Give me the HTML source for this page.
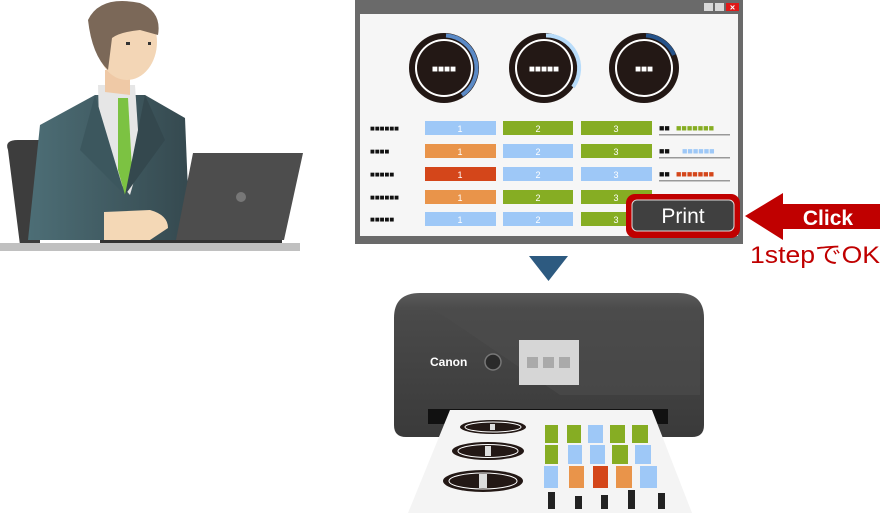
<!DOCTYPE html>
<html><head><meta charset="utf-8"><style>
html,body{margin:0;padding:0;background:#fff;width:883px;height:513px;overflow:hidden}
svg{display:block}
text{font-family:"Liberation Sans","Noto Sans CJK JP",sans-serif}
</style></head><body>
<svg width="883" height="513" viewBox="0 0 883 513" xmlns="http://www.w3.org/2000/svg">
<defs>
<linearGradient id="suit" x1="0" x2="1"><stop offset="0" stop-color="#4d6e76"/><stop offset="1" stop-color="#35494f"/></linearGradient>
<linearGradient id="pr" x1="0" y1="0" x2="0" y2="1"><stop offset="0" stop-color="#5a5a5a"/><stop offset="0.12" stop-color="#4a4a4a"/><stop offset="1" stop-color="#3a3a3a"/></linearGradient>
</defs>
<!-- person -->
<path d="M8 150 Q4 140 18 140 L40 140 L40 245 L20 245 Z" fill="#3d3d3d"/>
<path d="M40 125 L95 95 L145 95 L185 118 L190 240 L28 240 Z" fill="url(#suit)"/>
<path d="M98 85 L135 85 L140 160 L130 195 L100 160 Z" fill="#e6e6e6"/>
<path d="M118 98 L128 98 L132 170 L125 195 L118 170 Z" fill="#7cc242"/>
<path d="M95 95 L125 195 L80 150 Z" fill="#3c575e"/>
<path d="M145 95 L125 195 L165 140 Z" fill="#34484e"/>
<path d="M105 70 L130 70 L130 95 L105 92 Z" fill="#efc9a6"/>
<ellipse cx="127" cy="42" rx="30" ry="38" fill="#f3d6b6"/>
<path d="M88 20 Q100 -5 140 3 Q162 12 158 35 L140 30 Q120 32 112 38 L108 70 Q92 55 88 20 Z" fill="#7b6858"/>
<rect x="126" y="42" width="4" height="3" fill="#333"/><rect x="148" y="42" width="3" height="3" fill="#333"/>
<path d="M104 212 L150 210 Q168 215 168 228 L150 240 L104 240 Z" fill="#f4d8b6"/>
<path d="M193 153 L303 153 L284 240 L176 240 Z" fill="#4d4d4d"/>
<circle cx="241" cy="197" r="5" fill="#777"/>
<rect x="100" y="240" width="182" height="4" fill="#333"/>
<rect x="0" y="243" width="300" height="8" fill="#c0c0c0"/>
<!-- monitor -->
<rect x="355" y="0" width="388" height="244" fill="#6a6a6a"/>
<rect x="360" y="14" width="378" height="222" fill="#f6f6f6"/>
<rect x="704" y="3" width="9" height="8" fill="#d8d8d8"/><rect x="715" y="3" width="9" height="8" fill="#d8d8d8"/>
<rect x="726" y="3" width="13" height="8" fill="#e01818"/><text x="732.5" y="10.5" font-size="9" fill="#fff" text-anchor="middle" font-weight="bold">×</text>
<g>
<circle cx="444" cy="68" r="35" fill="#231815"/><circle cx="444" cy="68" r="29" fill="#fff"/><circle cx="444" cy="68" r="27" fill="#231815"/>
<path d="M446 35.5 A32.5 32.5 0 0 1 462 95" stroke="#5b8ac6" stroke-width="4" fill="none"/>
<circle cx="544" cy="68" r="35" fill="#231815"/><circle cx="544" cy="68" r="29" fill="#fff"/><circle cx="544" cy="68" r="27" fill="#231815"/>
<path d="M546 35.5 A32.5 32.5 0 0 1 573 87" stroke="#b8dcfa" stroke-width="4" fill="none"/>
<circle cx="644" cy="68" r="35" fill="#231815"/><circle cx="644" cy="68" r="29" fill="#fff"/><circle cx="644" cy="68" r="27" fill="#231815"/>
<path d="M646 35.5 A32.5 32.5 0 0 1 674 55" stroke="#26538a" stroke-width="4" fill="none"/>
<text x="444" y="72" font-size="10" fill="#fff" text-anchor="middle" font-weight="bold">■■■■</text>
<text x="544" y="72" font-size="10" fill="#fff" text-anchor="middle" font-weight="bold">■■■■■</text>
<text x="644" y="72" font-size="10" fill="#fff" text-anchor="middle" font-weight="bold">■■■</text>
</g>
<g font-size="9" fill="#fff" text-anchor="middle">
<g font-size="8" fill="#111" text-anchor="start" font-weight="bold">
<text x="370" y="131">■■■■■■</text><text x="370" y="154">■■■■</text><text x="370" y="177">■■■■■</text><text x="370" y="200">■■■■■■</text><text x="370" y="222">■■■■■</text>
</g>
<rect x="425" y="121" width="71" height="14" fill="#9ec8f7"/><rect x="503" y="121" width="70" height="14" fill="#86ad23"/><rect x="581" y="121" width="71" height="14" fill="#86ad23"/>
<rect x="425" y="144" width="71" height="14" fill="#e9944a"/><rect x="503" y="144" width="70" height="14" fill="#9ec8f7"/><rect x="581" y="144" width="71" height="14" fill="#86ad23"/>
<rect x="425" y="167" width="71" height="14" fill="#d4461a"/><rect x="503" y="167" width="70" height="14" fill="#9ec8f7"/><rect x="581" y="167" width="71" height="14" fill="#9ec8f7"/>
<rect x="425" y="190" width="71" height="14" fill="#e9944a"/><rect x="503" y="190" width="70" height="14" fill="#86ad23"/><rect x="581" y="190" width="71" height="14" fill="#86ad23"/>
<rect x="425" y="212" width="71" height="14" fill="#9ec8f7"/><rect x="503" y="212" width="70" height="14" fill="#9ec8f7"/><rect x="581" y="212" width="71" height="14" fill="#86ad23"/>
<text x="460" y="132">1</text><text x="538" y="132">2</text><text x="616" y="132">3</text>
<text x="460" y="155">1</text><text x="538" y="155">2</text><text x="616" y="155">3</text>
<text x="460" y="178">1</text><text x="538" y="178">2</text><text x="616" y="178">3</text>
<text x="460" y="201">1</text><text x="538" y="201">2</text><text x="616" y="201">3</text>
<text x="460" y="223">1</text><text x="538" y="223">2</text><text x="616" y="223">3</text>
</g>
<g font-size="9" font-weight="bold">
<text x="659" y="131" fill="#111">■■</text><text x="676" y="131" fill="#86ad23">■■■■■■■</text><rect x="659" y="134" width="71" height="1.5" fill="#999"/>
<text x="659" y="154" fill="#111">■■</text><text x="682" y="154" fill="#9ec8f7">■■■■■■</text><rect x="659" y="157" width="71" height="1.5" fill="#999"/>
<text x="659" y="177" fill="#111">■■</text><text x="676" y="177" fill="#d4461a">■■■■■■■</text><rect x="659" y="180" width="71" height="1.5" fill="#999"/>
<text x="659" y="199" fill="#777">■■</text><text x="676" y="199" fill="#e9944a">■■■■■■■</text>
</g>
<!-- print button -->
<rect x="626" y="194" width="114" height="44" rx="9" fill="#c00000"/>
<rect x="632" y="200" width="102" height="31" rx="5" fill="#404040" stroke="#ddd" stroke-width="1"/>
<text x="683" y="223" font-size="21" fill="#fff" text-anchor="middle">Print</text>
<!-- arrow -->
<path d="M745 216 L783 193 L783 204 L880 204 L880 229 L783 229 L783 240 Z" fill="#c00000"/>
<text x="828" y="225" font-size="21" fill="#fff" text-anchor="middle" font-weight="bold">Click</text>
<text x="815" y="263" font-size="24" fill="#c00000" text-anchor="middle" textLength="130" lengthAdjust="spacingAndGlyphs">1stepでOK</text>
<!-- down triangle -->
<path d="M529 256 L568 256 L548.5 281 Z" fill="#2d5a80"/>
<!-- printer -->
<path d="M394 318 Q394 293 420 293 L678 293 Q704 293 704 318 L704 425 Q704 437 692 437 L406 437 Q394 437 394 425 Z" fill="url(#pr)"/>
<path d="M398 310 Q420 300 450 320 L560 395 L700 395 L700 310 Z" fill="#4c4c4c" opacity="0.6"/>
<rect x="428" y="409" width="240" height="15" fill="#111"/>
<rect x="519" y="340" width="60" height="45" fill="#d6d6d6"/>
<rect x="527" y="357" width="11" height="11" fill="#aaa"/><rect x="543" y="357" width="11" height="11" fill="#aaa"/><rect x="559" y="357" width="11" height="11" fill="#aaa"/>
<text x="430" y="366" font-size="12" fill="#fff" font-weight="bold" font-family="Liberation Serif,serif">Canon</text>
<circle cx="493" cy="362" r="8" fill="#2a2a2a" stroke="#777" stroke-width="1.5"/>
<path d="M450 410 L652 410 L692 513 L408 513 Z" fill="#f4f4f4"/>
<g>
<ellipse cx="493" cy="427" rx="33" ry="7" fill="#231815"/><ellipse cx="493" cy="427" rx="28" ry="5" fill="none" stroke="#fff"/>
<ellipse cx="488" cy="451" rx="36" ry="9" fill="#231815"/><ellipse cx="488" cy="451" rx="30" ry="6.5" fill="none" stroke="#fff"/>
<ellipse cx="483" cy="481" rx="40" ry="11" fill="#231815"/><ellipse cx="483" cy="481" rx="34" ry="8" fill="none" stroke="#fff"/>
<rect x="490" y="424" width="5" height="6" fill="#ddd"/><rect x="485" y="446" width="6" height="10" fill="#ddd"/><rect x="479" y="474" width="8" height="14" fill="#ddd"/>
</g>
<g>
<rect x="545" y="425" width="13" height="18" fill="#86ad23"/><rect x="567" y="425" width="14" height="18" fill="#86ad23"/><rect x="588" y="425" width="15" height="18" fill="#9ec8f7"/><rect x="610" y="425" width="15" height="18" fill="#86ad23"/><rect x="632" y="425" width="16" height="18" fill="#86ad23"/>
<rect x="545" y="445" width="13" height="19" fill="#86ad23"/><rect x="568" y="445" width="14" height="19" fill="#9ec8f7"/><rect x="590" y="445" width="15" height="19" fill="#9ec8f7"/><rect x="612" y="445" width="16" height="19" fill="#86ad23"/><rect x="635" y="445" width="16" height="19" fill="#9ec8f7"/>
<rect x="544" y="466" width="14" height="22" fill="#9ec8f7"/><rect x="569" y="466" width="15" height="22" fill="#e9944a"/><rect x="593" y="466" width="15" height="22" fill="#d4461a"/><rect x="616" y="466" width="16" height="22" fill="#e9944a"/><rect x="640" y="466" width="17" height="22" fill="#9ec8f7"/>
<g fill="#222"><rect x="548" y="492" width="7" height="17"/><rect x="575" y="496" width="7" height="13"/><rect x="601" y="495" width="7" height="14"/><rect x="628" y="490" width="7" height="19"/><rect x="658" y="493" width="7" height="16"/></g>
</g>
</svg>
</body></html>
